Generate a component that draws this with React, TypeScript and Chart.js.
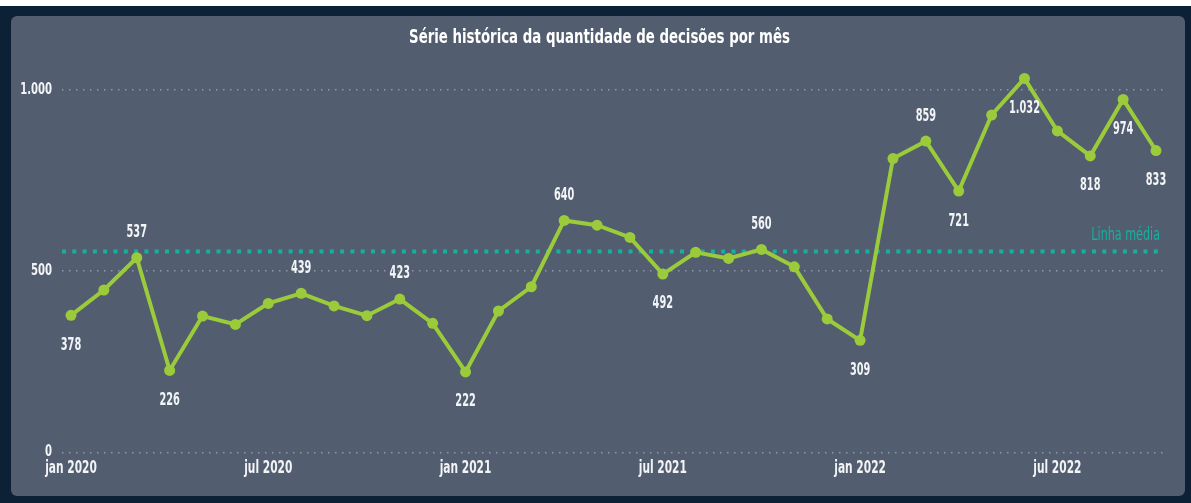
import React, { useEffect, useRef } from "react";
import { Chart, registerables } from "chart.js";

Chart.register(...registerables);

const months: string[] = [
  "jan 2020", "fev 2020", "mar 2020", "abr 2020", "mai 2020", "jun 2020",
  "jul 2020", "ago 2020", "set 2020", "out 2020", "nov 2020", "dez 2020",
  "jan 2021", "fev 2021", "mar 2021", "abr 2021", "mai 2021", "jun 2021",
  "jul 2021", "ago 2021", "set 2021", "out 2021", "nov 2021", "dez 2021",
  "jan 2022", "fev 2022", "mar 2022", "abr 2022", "mai 2022", "jun 2022",
  "jul 2022", "ago 2022", "set 2022", "out 2022",
];

const decisions: number[] = [
  378, 448, 537, 226, 376, 353, 411, 439, 404, 377, 423, 356,
  222, 390, 457, 640, 627, 593, 492, 552, 535, 560, 512, 368,
  309, 811, 859, 721, 931, 1032, 887, 818, 974, 833,
];

const xTickIndexes: number[] = [0, 6, 12, 18, 24, 30];
const yTickValues: number[] = [0, 500, 1000];
const labelsAbove: number[] = [2, 7, 10, 15, 21, 26];
const labelsBelow: number[] = [0, 3, 12, 18, 24, 27, 29, 31, 32, 33];

const TITLE = "Série histórica da quantidade de decisões por mês";
const AVG_LABEL = "Linha média";
const FONT = "'DejaVu Sans Condensed', 'DejaVu Sans', sans-serif";
const GREEN = "#9bcb3b";
const TEAL = "#17b0a0";
const TEXT = "#f2f4f7";

const fmt = (n: number): string => {
  if (n >= 1000) {
    return Math.floor(n / 1000) + "." + String(n % 1000).padStart(3, "0");
  }
  return String(n);
};

const average = decisions.reduce((a, b) => a + b, 0) / decisions.length;

const drawText = (
  ctx: CanvasRenderingContext2D,
  text: string,
  x: number,
  y: number,
  align: CanvasTextAlign,
  font: string,
  color: string,
  sx: number
) => {
  ctx.save();
  ctx.font = font;
  ctx.fillStyle = color;
  ctx.textAlign = align;
  ctx.textBaseline = "middle";
  ctx.translate(x, y);
  ctx.scale(sx, 1);
  ctx.fillText(text, 0, 0);
  ctx.restore();
};

const overlayPlugin = {
  id: "overlay",
  beforeDatasetsDraw(chart: any) {
    const { ctx, chartArea, scales } = chart;
    const y = scales.y.getPixelForValue(average);
    ctx.save();
    ctx.strokeStyle = TEAL;
    ctx.lineWidth = 4;
    ctx.setLineDash([4, 6.3]);
    ctx.beginPath();
    ctx.moveTo(chartArea.left, y);
    ctx.lineTo(chartArea.right, y);
    ctx.stroke();
    ctx.restore();
    drawText(ctx, AVG_LABEL, chartArea.right - 3, y - 16, "right", `17px ${FONT}`, TEAL, 0.73);
  },
  afterDatasetsDraw(chart: any) {
    const { ctx } = chart;
    const meta = chart.getDatasetMeta(0);
    const font = `bold 17px ${FONT}`;
    labelsAbove.forEach((i) => {
      const p = meta.data[i];
      drawText(ctx, fmt(decisions[i]), p.x, p.y - 25, "center", font, TEXT, 0.64);
    });
    labelsBelow.forEach((i) => {
      const p = meta.data[i];
      drawText(ctx, fmt(decisions[i]), p.x, p.y + 30, "center", font, TEXT, 0.64);
    });
  },
  afterDraw(chart: any) {
    const { ctx, scales, chartArea } = chart;
    drawText(ctx, TITLE, chart.width / 2 + 1.5, 22, "center", `bold 19px ${FONT}`, "#ffffff", 0.78);
    scales.y.ticks.forEach((t: any) => {
      const y = scales.y.getPixelForValue(t.value);
      drawText(ctx, fmt(t.value), chartArea.left - 10, y, "right", `bold 16px ${FONT}`, TEXT, 0.7);
    });
    scales.x.ticks.forEach((t: any) => {
      const x = scales.x.getPixelForValue(t.value);
      drawText(ctx, months[t.value], x, chartArea.bottom + 16, "center", `bold 17px ${FONT}`, TEXT, 0.695);
    });
  },
};

export default function App() {
  const ref = useRef<HTMLCanvasElement | null>(null);

  useEffect(() => {
    if (!ref.current) return;
    const chart = new Chart(ref.current, {
      type: "line",
      data: {
        datasets: [
          {
            data: decisions.map((v, i) => ({ x: i, y: v })),
            borderColor: GREEN,
            backgroundColor: GREEN,
            borderWidth: 4,
            pointRadius: 5.5,
            pointBackgroundColor: GREEN,
            pointBorderWidth: 0,
            tension: 0,
          },
        ],
      },
      options: {
        animation: false,
        responsive: false,
        layout: { padding: { left: 0, right: 22, top: 37.8, bottom: 13.7 } },
        plugins: {
          legend: { display: false },
          tooltip: { enabled: false },
          title: { display: false },
        },
        scales: {
          x: {
            type: "linear",
            min: -0.274,
            max: 33.213,
            afterBuildTicks: (s: any) => {
              s.ticks = xTickIndexes.map((v) => ({ value: v }));
            },
            afterFit: (s: any) => {
              s.height = 30;
            },
            ticks: { display: false },
            grid: { display: false, drawTicks: false },
            border: { display: false },
          },
          y: {
            min: 0,
            max: 1100,
            afterBuildTicks: (s: any) => {
              s.ticks = yTickValues.map((v) => ({ value: v }));
            },
            afterFit: (s: any) => {
              s.width = 51;
            },
            ticks: { display: false },
            grid: { color: "#8f98a6", lineWidth: 1.5, drawTicks: false },
            border: { display: false, dash: [1.5, 5.5] },
          },
        },
      },
      plugins: [overlayPlugin],
    });
    return () => chart.destroy();
  }, []);

  return (
    <div style={{ position: "fixed", left: 0, top: 0, width: 1191, height: 503, background: "#ffffff" }}>
      <div style={{ position: "absolute", left: 0, top: 6, width: 1191, height: 497, background: "#0c2036" }} />
      <div
        style={{
          position: "absolute",
          left: 11,
          top: 16,
          width: 1174,
          height: 480,
          background: "#525d6f",
          borderRadius: 6,
        }}
      >
        <canvas ref={ref} width={1174} height={480} style={{ width: 1174, height: 480, display: "block" }} />
      </div>
    </div>
  );
}
